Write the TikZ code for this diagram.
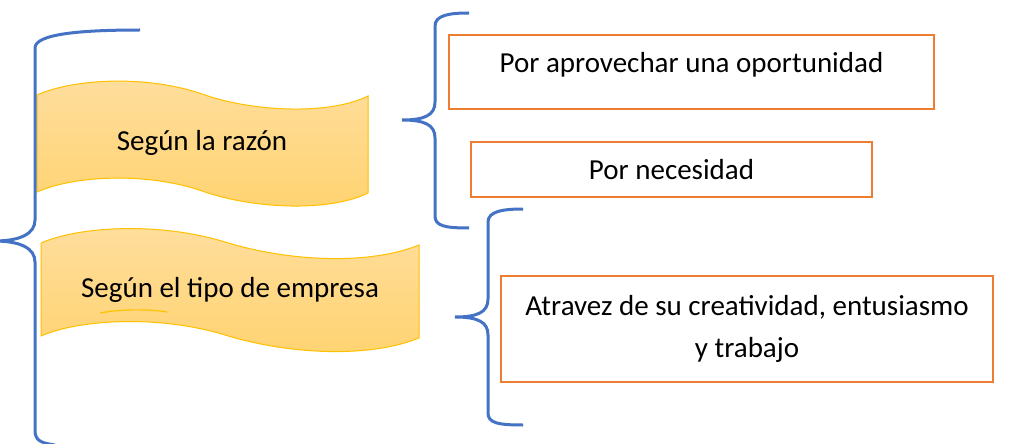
\documentclass[tikz,border=0pt]{standalone}
\usepackage{fontspec}
\setmainfont{Carlito}
\definecolor{bracebl}{HTML}{4472C4}
\definecolor{boxor}{HTML}{ED7D31}
\definecolor{bannerln}{HTML}{FFC000}
\definecolor{bannertop}{HTML}{FFDE9E}
\definecolor{bannerbot}{HTML}{FFD370}

\begin{document}
\begin{tikzpicture}[x=0.5pt,y=-0.5pt,
  brace/.style={draw=bracebl, line width=1.5pt},
  banner/.style={draw=bannerln, line width=0.5pt, top color=bannertop, bottom color=bannerbot},
  box/.style={draw=boxor, line width=1pt, inner sep=0pt},
  txt/.style={font=\fontsize{14.5pt}{21pt}\selectfont, text=black}]
\useasboundingbox (0,0) rectangle (1012,444);
\clip (0,0) rectangle (1012,444);

% banners
\path[banner] (37,95) .. controls (75,78) and (150,75) .. (205,95) .. controls (255,112) and (330,115) .. (368,96)
  -- (368,193) .. controls (330,212) and (255,209) .. (205,192) .. controls (150,172) and (75,175) .. (37,192) -- cycle;
\path[banner] (41,243) .. controls (80,226) and (160,222) .. (225,242) .. controls (290,262) and (370,265) .. (419,245)
  -- (419,338) .. controls (370,358) and (290,355) .. (225,335) .. controls (160,315) and (80,319) .. (41,336) -- cycle;
\draw[bannerln, line width=0.6pt] (100,313) .. controls (120,309) and (150,309) .. (167,312);

\node[txt] (razon) at (202,143) {Según la razón};
\node[txt] (tipo) at (230,290) {Según el tipo de empresa};

% boxes
\node[box, txt, minimum width=242.5pt, minimum height=37pt, text depth=10pt] (oport) at (691.5,72) {Por aprovechar una oportunidad};
\node[box, txt, minimum width=200.5pt, minimum height=27.5pt] (necesidad) at (671.5,169.5) {Por necesidad};
\node[box, txt, align=center, minimum width=246pt, minimum height=53pt] (creativ) at (747,329) {Atravez de su creatividad, entusiasmo\\y trabajo};

% braces
\draw[brace] (140,30) .. controls (80,30) and (35,34) .. (35,48) -- (35,220)
  .. controls (35,234) and (20,241) .. (-6,241) .. controls (20,241) and (35,248) .. (35,262)
  -- (35,430) .. controls (35,440) and (40,443) .. (55,445);
\draw[brace] (469,13) .. controls (450,13) and (435,15) .. (435,26) -- (435,102)
  .. controls (435,115) and (425,120) .. (402,120) .. controls (425,120) and (435,125) .. (435,138)
  -- (435,216) .. controls (435,226) and (445,228) .. (469,228);
\draw[brace] (523,209) .. controls (504,209) and (488,211) .. (488,222) -- (488,299)
  .. controls (488,312) and (478,317) .. (455,317) .. controls (478,317) and (488,322) .. (488,335)
  -- (488,413) .. controls (488,423) and (498,425) .. (523,425);
\end{tikzpicture}
\end{document}
